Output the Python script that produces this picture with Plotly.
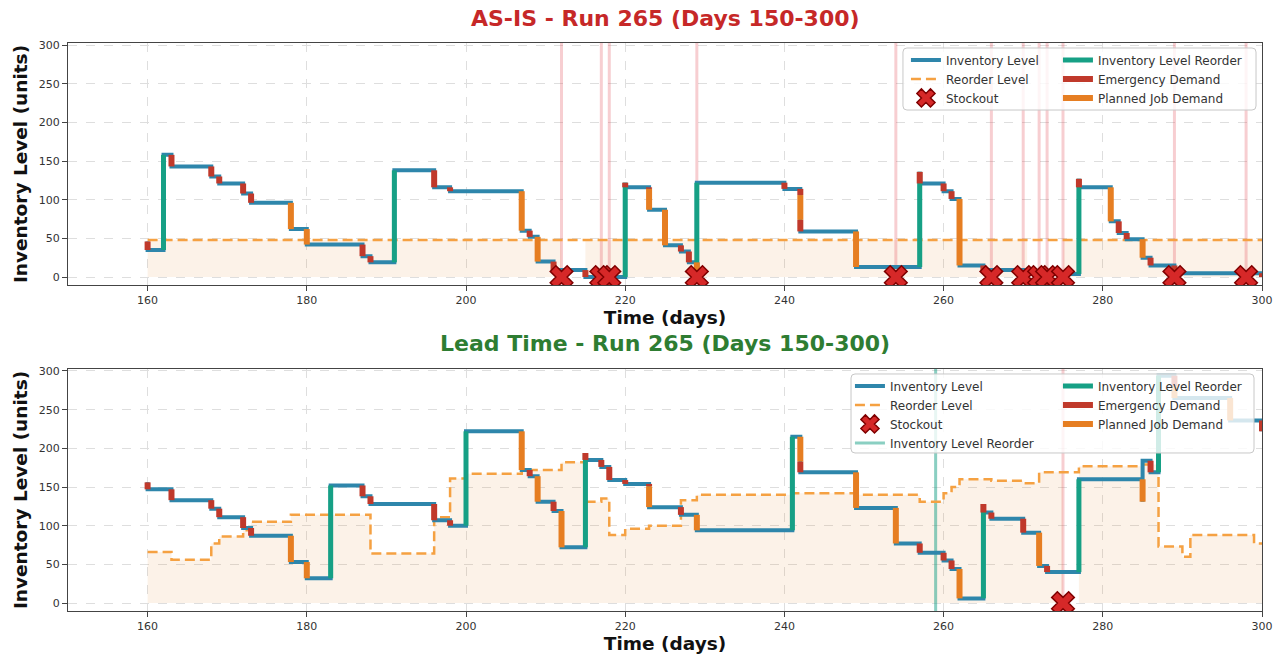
import plotly.graph_objects as go

# ---------------- data ----------------
X_RANGE = [150, 300]
Y_RANGE = [-10.3, 302.6]
X_TICKS = [160, 180, 200, 220, 240, 260, 280, 300]
Y_TICKS = [0, 50, 100, 150, 200, 250, 300]
WINDOW_START = 160
WINDOW_END = 300

TITLE_ASIS = "AS-IS - Run 265 (Days 150-300)"
TITLE_LT = "Lead Time - Run 265 (Days 150-300)"
X_LABEL = "Time (days)"
Y_LABEL = "Inventory Level (units)"

# AS-IS panel: inventory events (kind: R=reorder arrival, E=emergency demand, P=planned job demand)
asis_start_level = 46
asis_event_day = [160, 162, 163, 168, 169, 172, 173, 178, 180, 187,
                  188, 191, 196, 198, 207, 208, 209, 211, 215, 220,
                  220, 223, 223, 225, 227, 228, 229, 229, 240, 242,
                  242, 242, 249, 257, 257, 260, 261, 262, 265, 270,
                  277, 277, 281, 282, 283, 285, 286, 289, 300]
asis_event_kind = ["E", "R", "E", "E", "E", "E", "E", "P", "P", "E",
                   "E", "R", "E", "E", "P", "E", "P", "E", "E", "R",
                   "E", "E", "P", "P", "E", "E", "P", "R", "E", "E",
                   "P", "E", "P", "R", "E", "E", "E", "P", "E", "E",
                   "R", "E", "P", "E", "E", "P", "E", "E", "E"]
asis_event_level = [35, 158, 143, 130, 121, 108, 96, 62, 42, 27,
                    19, 138, 116, 111, 60, 52, 20, 9, 0, 122,
                    116, 114, 87, 41, 33, 19, 0, 122, 114, 106,
                    74, 59, 13, 136, 121, 111, 101, 15, 9, 4,
                    127, 116, 72, 57, 49, 25, 15, 5, 0]
asis_reorder_day = [160, 300]
asis_reorder_level = [48, 48]
asis_stockout_day = [212, 217, 218, 229, 254, 266, 270, 272, 273, 275, 289, 298]
asis_fill_gaps = [(212, 215), (270.5, 275)]

# Lead Time panel
lt_start_level = 156
lt_event_day = [160, 163, 168, 169, 172, 173, 178, 180, 183, 187,
                188, 196, 198, 200, 207, 208, 209, 211, 212, 215,
                215, 217, 218, 220, 223, 223, 227, 229, 241, 242,
                242, 249, 254, 257, 260, 261, 262, 265, 265, 266,
                270, 272, 273, 277, 285, 285, 286, 287, 289, 289,
                296, 300]
lt_event_kind = ["E", "E", "E", "E", "E", "E", "P", "P", "R", "E",
                 "E", "E", "E", "R", "P", "E", "P", "E", "P", "R",
                 "E", "E", "E", "E", "E", "P", "E", "P", "R", "P",
                 "E", "P", "P", "E", "E", "E", "P", "R", "E", "E",
                 "E", "P", "E", "R", "P", "S", "E", "R", "E", "P",
                 "P", "E"]
lt_event_level = [147, 133, 122, 111, 97, 87, 53, 32, 152, 138,
                  128, 107, 100, 222, 172, 164, 131, 119, 72, 194,
                  185, 176, 159, 154, 151, 124, 114, 94, 215, 183,
                  169, 123, 77, 65, 55, 44, 6, 128, 117, 109,
                  91, 48, 40, 160, 131, 184, 169, 294, 280, 265,
                  236, 222]
lt_reorder_day = [160, 163, 168, 169, 172, 173, 178, 188, 196, 198,
                  200, 207, 212, 215, 217, 218, 220, 223, 227, 229,
                  241, 249, 257, 260, 261, 262, 266, 270, 272, 277,
                  285, 287, 290, 291, 299, 300]
lt_reorder_level = [66, 56, 77, 86, 94, 105, 114, 64, 111, 161,
                    167, 172, 182, 131, 135, 88, 96, 100, 133, 140,
                    142, 140, 131, 142, 150, 160, 158, 155, 169, 177,
                    179, 73, 60, 88, 77, 77]
lt_stockout_day = [275]
lt_reorder_signal_day = [259]
lt_fill_gaps = [(275, 277)]

# ---------------- style ----------------
FONT = "DejaVu Sans"
C_INV = "#2e86ab"
C_REORDER = "#16a085"
C_EMERG = "#c0392b"
C_PLAN = "#e67e22"
C_RL = "#f5a142"
C_FILL = "rgba(230,126,34,0.10)"
C_STOCK_LINE = "rgba(225,80,90,0.28)"
C_SIGNAL = "rgba(22,160,133,0.5)"

SEG_STYLE = {
    "R": dict(name="Inventory Level Reorder", color=C_REORDER, width=5, rank=1),
    "E": dict(name="Emergency Demand", color=C_EMERG, width=6, rank=2),
    "P": dict(name="Planned Job Demand", color=C_PLAN, width=6, rank=3),
}

PLOT_W_PX = 1194
PLOT_H_PX = 568


def level_at(days, levels, x, strict=False):
    val = levels[0]
    for d, l in zip(days, levels):
        if d < x or (not strict and d == x):
            val = l
    return val


def fill_polygons(days, levels, gaps):
    intervals = []
    cur = WINDOW_START
    for g0, g1 in sorted(gaps):
        intervals.append((cur, g0))
        cur = g1
    intervals.append((cur, WINDOW_END))
    polys = []
    for a, b in intervals:
        xs = [a]
        ys = [level_at(days, levels, a)]
        for d in days:
            if a < d < b:
                xs += [d, d]
                ys += [level_at(days, levels, d, strict=True), level_at(days, levels, d)]
        xs.append(b)
        ys.append(level_at(days, levels, b, strict=True))
        polys.append((xs, ys))
    return polys


def rounded_rect_path(x0, x1, y0, y1, r_px=4):
    rx = r_px / PLOT_W_PX
    ry = r_px / PLOT_H_PX
    return (f"M {x0 + rx},{y0} L {x1 - rx},{y0} Q {x1},{y0} {x1},{y0 + ry} "
            f"L {x1},{y1 - ry} Q {x1},{y1} {x1 - rx},{y1} "
            f"L {x0 + rx},{y1} Q {x0},{y1} {x0},{y1 - ry} "
            f"L {x0},{y0 + ry} Q {x0},{y0} {x0 + rx},{y0} Z")


fig = go.Figure()


def add_panel(xa, ya, leg_a, leg_b, start, ev_day, ev_kind, ev_level,
              rl_day, rl_level, so_day, gaps, signal_day=None):
    # fill under reorder level
    for xs, ys in fill_polygons(rl_day, rl_level, gaps):
        fig.add_trace(go.Scatter(x=xs, y=ys, mode="lines", fill="tozeroy",
                                 fillcolor=C_FILL, line=dict(width=0),
                                 showlegend=False, hoverinfo="skip",
                                 xaxis=xa, yaxis=ya))
    # stockout vertical lines
    sx, sy = [], []
    for d in so_day:
        sx += [d, d, None]
        sy += [Y_RANGE[0], Y_RANGE[1], None]
    fig.add_trace(go.Scatter(x=sx, y=sy, mode="lines",
                             line=dict(color=C_STOCK_LINE, width=3),
                             showlegend=False, hoverinfo="skip",
                             xaxis=xa, yaxis=ya))
    # reorder signal line (lead time only)
    if signal_day:
        gx, gy = [], []
        for d in signal_day:
            gx += [d, d, None]
            gy += [Y_RANGE[0], Y_RANGE[1], None]
        fig.add_trace(go.Scatter(x=gx, y=gy, mode="lines",
                                 line=dict(color=C_SIGNAL, width=3),
                                 name="Inventory Level Reorder", legend=leg_a,
                                 legendrank=4, xaxis=xa, yaxis=ya))
    # reorder level
    fig.add_trace(go.Scatter(x=rl_day, y=rl_level, mode="lines",
                             line=dict(color=C_RL, width=2.5, dash="10px,5px", shape="hv"),
                             name="Reorder Level", legend=leg_a, legendrank=2,
                             xaxis=xa, yaxis=ya))
    # inventory level
    ix = [WINDOW_START] + list(ev_day) + [WINDOW_END]
    iy = [start] + list(ev_level) + [ev_level[-1]]
    fig.add_trace(go.Scatter(x=ix, y=iy, mode="lines",
                             line=dict(color=C_INV, width=4, shape="hv"),
                             name="Inventory Level", legend=leg_a, legendrank=1,
                             xaxis=xa, yaxis=ya))
    # event segments
    segs = {k: ([], []) for k in SEG_STYLE}
    prev = start
    for d, k, l in zip(ev_day, ev_kind, ev_level):
        if k in segs:
            segs[k][0].extend([d, d, None])
            segs[k][1].extend([prev, l, None])
        prev = l
    for k in ["R", "E", "P"]:
        st = SEG_STYLE[k]
        fig.add_trace(go.Scatter(x=segs[k][0], y=segs[k][1], mode="lines",
                                 line=dict(color=st["color"], width=st["width"]),
                                 name=st["name"], legend=leg_b, legendrank=st["rank"],
                                 xaxis=xa, yaxis=ya))
    # stockout markers
    fig.add_trace(go.Scatter(x=so_day, y=[0] * len(so_day), mode="markers",
                             marker=dict(symbol="x", size=20, color="#d62828",
                                         line=dict(color="#7f0000", width=1.5)),
                             name="Stockout", legend=leg_a, legendrank=3,
                             xaxis=xa, yaxis=ya))


add_panel("x", "y", "legend", "legend2", asis_start_level, asis_event_day,
          asis_event_kind, asis_event_level, asis_reorder_day, asis_reorder_level,
          asis_stockout_day, asis_fill_gaps)
add_panel("x2", "y2", "legend3", "legend4", lt_start_level, lt_event_day,
          lt_event_kind, lt_event_level, lt_reorder_day, lt_reorder_level,
          lt_stockout_day, lt_fill_gaps, signal_day=lt_reorder_signal_day)

axis_common = dict(
    showline=True, mirror=True, linecolor="#444", linewidth=1.2,
    ticks="outside", ticklen=5, tickcolor="#444", automargin=False,
    showgrid=True, gridcolor="#dedede", griddash="dash", gridwidth=1,
    zeroline=False, tickfont=dict(family=FONT, size=11, color="#333"),
)
title_font = dict(family=FONT, size=18.5, color="#111", weight="bold")

TOP_DOM = [0.5739, 1.0]
BOT_DOM = [0.0, 0.4261]

fig.update_layout(
    width=1276, height=656,
    margin=dict(l=68, r=14, t=43, b=45, autoexpand=False),
    paper_bgcolor="white", plot_bgcolor="white",
    font=dict(family=FONT, color="#333"),
    xaxis=dict(axis_common, domain=[0, 1], anchor="y", range=X_RANGE, tickvals=X_TICKS,
               title=dict(text=X_LABEL, font=title_font, standoff=4)),
    yaxis=dict(axis_common, domain=TOP_DOM, anchor="x", range=Y_RANGE, tickvals=Y_TICKS,
               title=dict(text=Y_LABEL, font=title_font, standoff=6)),
    xaxis2=dict(axis_common, domain=[0, 1], anchor="y2", range=X_RANGE, tickvals=X_TICKS,
                title=dict(text=X_LABEL, font=title_font, standoff=4)),
    yaxis2=dict(axis_common, domain=BOT_DOM, anchor="x2", range=Y_RANGE, tickvals=Y_TICKS,
                title=dict(text=Y_LABEL, font=title_font, standoff=6)),
    showlegend=True,
)

leg_common = dict(xanchor="left", yanchor="top", orientation="v",
                  bgcolor="rgba(0,0,0,0)", borderwidth=0, traceorder="normal",
                  font=dict(family=FONT, size=12, color="#333"), tracegroupgap=0)
fig.update_layout(
    legend=dict(leg_common, x=0.7018, y=0.9957),
    legend2=dict(leg_common, x=0.8291, y=0.9957),
    legend3=dict(leg_common, x=0.6549, y=0.4217),
    legend4=dict(leg_common, x=0.8291, y=0.4217),
)

# legend frames
for x0, x1, y0, y1 in [(0.6993, 0.995, 0.882, 0.9912), (0.6558, 0.9933, 0.2782, 0.4173)]:
    fig.add_shape(type="path", xref="paper", yref="paper",
                  path=rounded_rect_path(x0, x1, y0, y1),
                  layer="above", fillcolor="rgba(255,255,255,0.8)",
                  line=dict(color="#c8c8c8", width=1))

# panel titles
fig.add_annotation(text=TITLE_ASIS, xref="paper", yref="paper", x=0.5, y=1.0423,
                   showarrow=False, xanchor="center", yanchor="middle",
                   font=dict(family=FONT, size=22, color="#c62828", weight="bold"))
fig.add_annotation(text=TITLE_LT, xref="paper", yref="paper", x=0.5, y=0.4718,
                   showarrow=False, xanchor="center", yanchor="middle",
                   font=dict(family=FONT, size=22, color="#2e7d32", weight="bold"))

fig.write_html("out.html", config={"displayModeBar": False},
               post_script="document.body.style.margin='0px';")
